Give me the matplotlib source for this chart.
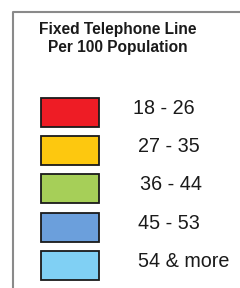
import matplotlib.pyplot as plt

# legend classes
labels = ['18 - 26', '27 - 35', '36 - 44', '45 - 53', '54 & more']
colors = ['#ee1c25', '#fdc80f', '#a6cf58', '#6b9fdc', '#80d0f4']
title = 'Fixed Telephone Line\nPer 100 Population'

fig = plt.figure(figsize=(2.4, 2.88), dpi=100)
ax = fig.add_axes([0, 0, 1, 1])
ax.set_xlim(0, 240)
ax.set_ylim(288, 0)
ax.axis('off')

# box frame
ax.plot([12.5, 12.5, 240], [288, 11.5, 11.5], color='#8a8a8a', lw=1.5)

ax.text(118, 38.5, title, ha='center', va='center', fontsize=11.2,
        fontweight='bold', family='Liberation Sans', color='#1a1a1a',
        linespacing=1.2)

ypos = [112.5 + 38.2 * i for i in range(len(labels))]
ax.barh(ypos, 58, left=41, height=29, color=colors, edgecolor='#1a1a1a', lw=1.3)
xoff = [133, 138.5, 139.5, 138.5, 138]
for x, y, lab in zip(xoff, ypos, labels):
    ax.text(x, y - 4, lab, ha='left', va='center', fontsize=14.2,
            family='Liberation Sans', color='#1a1a1a')

fig.savefig('out.png', dpi=100)
